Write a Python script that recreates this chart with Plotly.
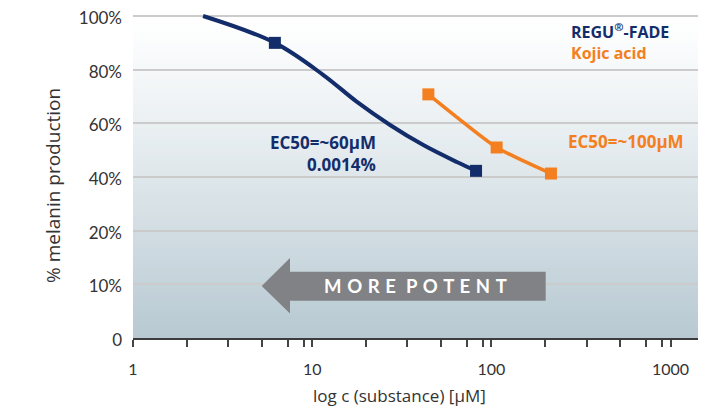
import plotly.graph_objects as go

# ---- data ----
regu_curve_x = [2.46, 6.19, 11.5, 17.7, 27.2, 41.7, 64.1, 82.1]
regu_curve_y = [100, 90, 78.1, 68.1, 59.4, 51.9, 45.6, 42.3]
regu_marker_x = [6.19, 82.1]
regu_marker_y = [90, 42.3]
kojic_x = [44.5, 107, 215]
kojic_y = [70.8, 51.0, 41.3]

x_label_vals = [1, 10, 100, 1000]
x_minor_steps = [2, 3.4, 5.25, 7.3, 9]
y_tick_vals = [100, 80, 60, 40, 20, 0, -20]
y_tick_text = ["100%", "80%", "60%", "40%", "20%", "10%", "0"]

NAVY = "#132d6b"
ORANGE = "#f47f20"
FONT = "Lato"
FONT2 = "Open Sans"
W, H = 721, 412
OFF = 8  # page body margin offset in the browser
Y_TOP = 101.5
# plot area in page pixels
PL, PR, PB = 133, 698, 338
UNIT = 322 / 120.0
PT = 16 - (Y_TOP - 100) * UNIT
PW, PH = PR - PL, PB - PT
ML, MT = PL - OFF, PT - OFF
MR = W - (PR - OFF)
MB = H - (PB - OFF)


def px(x):
    return (x - PL) / PW


def py(y):
    return (PB - y) / PH


# tick values on the log axis
tickvals, ticktext = [], []
for dec in x_label_vals:
    tickvals.append(dec)
    ticktext.append(str(dec))
    if dec < 1000:
        for m in x_minor_steps:
            tickvals.append(dec * m)
            ticktext.append("")

fig = go.Figure()
fig.add_trace(go.Scatter(x=regu_curve_x, y=regu_curve_y, mode="lines",
                         line=dict(color=NAVY, width=4, shape="spline", smoothing=1.0),
                         hoverinfo="skip", showlegend=False))
fig.add_trace(go.Scatter(x=regu_marker_x, y=regu_marker_y, mode="markers",
                         marker=dict(symbol="square", size=12, color=NAVY),
                         showlegend=False))
fig.add_trace(go.Scatter(x=kojic_x, y=kojic_y, mode="lines+markers",
                         line=dict(color=ORANGE, width=3.5, shape="spline", smoothing=0.5),
                         marker=dict(symbol="square", size=12, color=ORANGE),
                         showlegend=False))

shapes = []
# background gradient (white top -> grey-blue bottom), between y=100 and the axis
n = 80
top = (255, 255, 255)
bot = (183, 201, 210)
for i in range(n):
    t0 = i / n
    t1 = (i + 1) / n
    tm = (t0 + t1) / 2
    f = tm ** 1.15
    c = tuple(round(top[k] + (bot[k] - top[k]) * f) for k in range(3))
    shapes.append(dict(type="rect", xref="paper", yref="y",
                       x0=0, x1=1, y0=100 - 120 * t1, y1=100 - 120 * t0 + 0.3,
                       fillcolor="rgb(%d,%d,%d)" % c, line=dict(width=0),
                       layer="below"))

# arrow "MORE POTENT"
cy = 286
path = ("M {tx},{ty} L {hx},{ht} L {hx},{st} L {ex},{st} L {ex},{sb} "
        "L {hx},{sb} L {hx},{hb} Z").format(
    tx=px(261.7), ty=py(cy), hx=px(290), ht=py(258), hb=py(313.5),
    st=py(271.7), sb=py(300.7), ex=px(545.7))
shapes.append(dict(type="path", xref="paper", yref="paper", path=path,
                   fillcolor="#808285", line=dict(width=0), layer="above"))

# right-hand light blue strip
shapes.append(dict(type="rect", xref="paper", yref="paper",
                   x0=px(718), x1=px(740), y0=py(430), y1=py(-10),
                   fillcolor="#d6e9f2", line=dict(width=0)))

SP = " \u200a"
potent = "<b>" + SP.join("MORE") + SP + "\u00a0" + SP.join("POTENT") + "</b>"
legend_txt = ("<b><span style='color:%s'>REGU<sup>®</sup>-FADE</span><br>"
              "<span style='color:%s'>Kojic acid</span></b>") % (NAVY, ORANGE)

annotations = [
    dict(text=legend_txt, x=px(569), y=py(41.5), xanchor="left", yanchor="middle",
         font=dict(size=16, color=NAVY, family=FONT2)),
    dict(text="<b>EC50=~60μM</b>", x=px(378), y=py(142.5), xanchor="right", yanchor="middle",
         font=dict(size=17, color=NAVY, family=FONT2)),
    dict(text="<b>0.0014%</b>", x=px(378), y=py(164), xanchor="right", yanchor="middle",
         font=dict(size=17, color=NAVY, family=FONT2)),
    dict(text="<b>EC50=~100μM</b>", x=px(566), y=py(141.5), xanchor="left", yanchor="middle",
         font=dict(size=17, color=ORANGE, family=FONT2)),
    dict(text=potent, x=px(415.5), y=py(cy), xanchor="center",
         yanchor="middle", font=dict(size=18.5, color="white", family=FONT)),
    dict(text="% melanin production", x=px(53), y=py(186), textangle=-90,
         xanchor="center", yanchor="middle",
         font=dict(size=19, color="#333333", family=FONT2)),
    dict(text="log c (substance) [μM]", x=px(399), y=py(396), xanchor="center",
         yanchor="middle", font=dict(size=17, color="#333333", family=FONT2)),
]
for a in annotations:
    a.update(xref="paper", yref="paper", showarrow=False, align="left")

fig.update_layout(
    width=W, height=H,
    margin=dict(l=ML, r=MR, t=MT, b=MB, autoexpand=False),
    paper_bgcolor="white", plot_bgcolor="white",
    font=dict(family=FONT, color="#333333"),
    shapes=shapes, annotations=annotations,
    showlegend=False,
)
fig.update_xaxes(type="log", range=[0, 3.153], tickmode="array",
                 tickvals=tickvals, ticktext=ticktext, automargin=False,
                 ticks="outside", ticklen=7, tickwidth=1.5, tickcolor="#444444",
                 showline=True, linecolor="#3c3c3c", linewidth=2, tickangle=0,
                 showgrid=False, zeroline=False, ticklabelstandoff=9,
                 ticklabeloverflow="allow",
                 tickfont=dict(size=16, color="#333333", family=FONT))
fig.update_yaxes(range=[-20, Y_TOP], tickmode="array", automargin=False,
                 tickvals=y_tick_vals, ticktext=y_tick_text,
                 showgrid=True, gridcolor="#cbcbcb", gridwidth=1.5,
                 showline=False, zeroline=False, ticks="", ticklabelstandoff=10,
                 ticklabelshift=2, ticklabeloverflow="allow",
                 tickfont=dict(size=17, color="#333333", family=FONT))

fig.write_html("out.html")
